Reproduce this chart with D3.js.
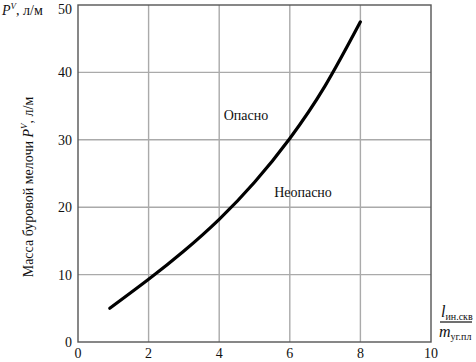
<!DOCTYPE html>
<html>
<head>
<meta charset="utf-8">
<script src="https://cdn.jsdelivr.net/npm/d3@7"></script>
<style>
  body { margin: 0; background: #fff; }
  text { font-family: "Liberation Serif", "DejaVu Serif", serif; fill: #111; }
</style>
</head>
<body>
<svg id="chart" width="476" height="362"></svg>
<script>

var xTicks = [0, 2, 4, 6, 8, 10];
var yTicks = [0, 10, 20, 30, 40, 50];

// кривая граничной массы буровой мелочи
var ratio = [0.9, 2, 3, 4, 5, 6, 7, 8];
var mass  = [5, 9.3, 13.5, 18.2, 23.7, 30.2, 38.0, 47.5];

var svg = d3.select("#chart");

var x = d3.scaleLinear().domain([0, 10]).range([78, 431]);
var y = d3.scaleLinear().domain([0, 50]).range([342, 5]);

// grid
svg.append("g").selectAll("line")
  .data(xTicks.slice(1, -1))
  .enter().append("line")
    .attr("x1", function(d){ return x(d); })
    .attr("x2", function(d){ return x(d); })
    .attr("y1", y(0)).attr("y2", y(50))
    .attr("stroke", "#aaa").attr("stroke-width", 1.4);

svg.append("g").selectAll("line")
  .data(yTicks.slice(1, -1))
  .enter().append("line")
    .attr("y1", function(d){ return y(d); })
    .attr("y2", function(d){ return y(d); })
    .attr("x1", x(0)).attr("x2", x(10))
    .attr("stroke", "#aaa").attr("stroke-width", 1.4);

// frame
svg.append("rect")
  .attr("x", x(0)).attr("y", y(50))
  .attr("width", x(10) - x(0)).attr("height", y(0) - y(50))
  .attr("fill", "none").attr("stroke", "#555").attr("stroke-width", 1.4);

// tick labels
svg.append("g").selectAll("text")
  .data(xTicks)
  .enter().append("text")
    .attr("x", function(d){ return x(d); })
    .attr("y", 358)
    .attr("text-anchor", "middle")
    .attr("font-size", 14)
    .text(function(d){ return d; });

svg.append("g").selectAll("text")
  .data(yTicks)
  .enter().append("text")
    .attr("x", 72)
    .attr("y", function(d){ return Math.max(y(d) + 5, 14); })
    .attr("text-anchor", "end")
    .attr("font-size", 14)
    .text(function(d){ return d; });

// curve
var pts = ratio.map(function(r, i){ return [r, mass[i]]; });
var line = d3.line()
  .x(function(d){ return x(d[0]); })
  .y(function(d){ return y(d[1]); })
  .curve(d3.curveNatural);

svg.append("path")
  .datum(pts)
  .attr("d", line)
  .attr("fill", "none")
  .attr("stroke", "#000")
  .attr("stroke-width", 3.2)
  .attr("stroke-linecap", "round");

// zone labels
svg.append("text").attr("x", 246).attr("y", 120)
  .attr("text-anchor", "middle").attr("font-size", 14).text("Опасно");
svg.append("text").attr("x", 303).attr("y", 197)
  .attr("text-anchor", "middle").attr("font-size", 14).text("Неопасно");

// y title (top)
var yTop = svg.append("text").attr("x", 2).attr("y", 15).attr("font-size", 14);
yTop.append("tspan").attr("font-style", "italic").text("P");
yTop.append("tspan").attr("font-size", 9).attr("dy", -6).attr("font-style", "italic").text("V");
yTop.append("tspan").attr("dy", 6).text(", л/м");

// y title (rotated)
var yt = svg.append("text")
  .attr("transform", "translate(33,187) rotate(-90)")
  .attr("text-anchor", "middle")
  .attr("font-size", 14);
yt.append("tspan").text("Масса буровой мелочи ");
yt.append("tspan").attr("font-style", "italic").text("P");
yt.append("tspan").attr("font-size", 9).attr("dy", -6).attr("font-style", "italic").text("V");
yt.append("tspan").attr("dy", 6).text(", л/м");

// x title fraction
var num = svg.append("text").attr("x", 441).attr("y", 317).attr("font-size", 16);
num.append("tspan").attr("font-style", "italic").text("l");
num.append("tspan").attr("font-size", 10).attr("dy", 3).text("ин.скв");

svg.append("line")
  .attr("x1", 440).attr("x2", 472).attr("y1", 322).attr("y2", 322)
  .attr("stroke", "#111").attr("stroke-width", 1.2);

var den = svg.append("text").attr("x", 439).attr("y", 337).attr("font-size", 16);
den.append("tspan").attr("font-style", "italic").text("m");
den.append("tspan").attr("font-size", 10).attr("dy", 3).text("уг.пл");

</script>
</body>
</html>
